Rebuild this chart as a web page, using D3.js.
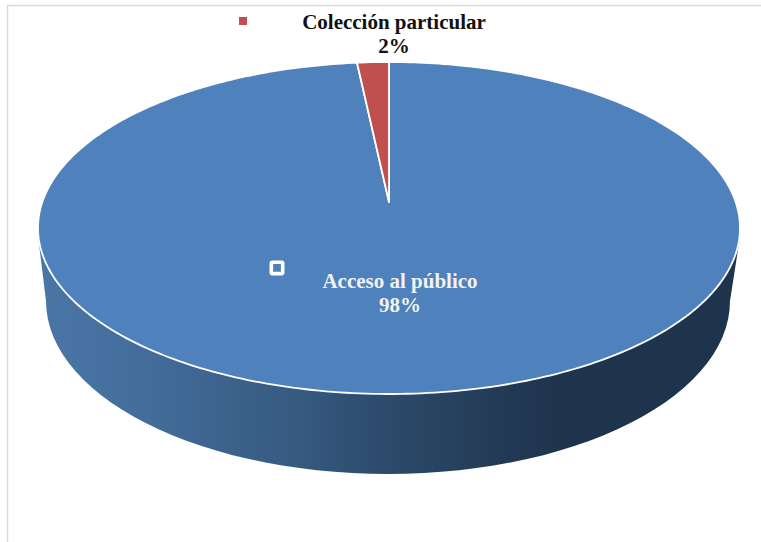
<!DOCTYPE html>
<html>
<head>
<meta charset="utf-8">
<style>
  body { margin: 0; background: white; }
  svg { display: block; }
  text { font-family: "Liberation Serif", serif; font-weight: bold; text-anchor: middle; font-size: 21px; }
</style>
<script src="https://cdnjs.cloudflare.com/ajax/libs/d3/7.8.5/d3.min.js"></script>
</head>
<body>
<div id="canvas"></div>
<script>
var categories = ["Acceso al público", "Colección particular"];
var series_values = [98.3, 1.7];
var slice_colors = ["#4f81bd", "#c0504d"];
var label_colors = ["#f2f2f2", "#111111"];

var canvas_w = 761, canvas_h = 542;

// top face, seen in perspective: the far edge is squeezed, the centre sits high
var face_cx = 389, face_top = 62, face_bottom = 394, face_apex = 202, face_halfw = 351;
var k = (2 * face_apex - face_top - face_bottom) / (face_bottom - face_top);
var a = (face_bottom - face_top) * (1 - k * k) / 2;
var sx = face_halfw * Math.sqrt(1 - k * k);

function project(angle) {
  var u = Math.sin(angle), v = -Math.cos(angle), w = 1 + k * v;
  return [face_cx + sx * u / w, face_apex + a * v / w];
}

var svg = d3.select("#canvas").append("svg").attr("width", canvas_w).attr("height", canvas_h);

// frame of the pasted chart, only top and left show
svg.append("path").attr("d", "M761,5.5H7.5V542").attr("fill", "none")
   .attr("stroke", "#d9d9d9").attr("stroke-width", 1.5);

var grad = svg.append("defs").append("linearGradient").attr("id", "wall")
   .attr("gradientUnits", "userSpaceOnUse")
   .attr("x1", 38).attr("x2", 740).attr("y1", 0).attr("y2", 0);
[[0, "#4a76a6"], [0.16, "#436c9a"], [0.37, "#365a80"], [0.5, "#2c4a6a"], [0.66, "#233a55"], [0.76, "#1e334c"], [1, "#1e334c"]]
  .forEach(function(s) { grad.append("stop").attr("offset", s[0]).attr("stop-color", s[1]); });

// side wall: lower half of a narrower ellipse hung under the top face
var wall_cx = 388, wall_cy = 301, wall_rx = 342, wall_ry = 173;
var line = d3.line();
var wall_pts = [[38.5, 240]];
d3.range(0, 181, 3).forEach(function(deg) {
  var t = Math.PI - deg * Math.PI / 180;
  wall_pts.push([wall_cx + wall_rx * Math.cos(t), wall_cy + wall_ry * Math.sin(t)]);
});
wall_pts.push([739.5, 240]);
svg.append("path").attr("d", line(wall_pts)).attr("fill", "url(#wall)");

// top face slices, angles from d3.pie
var pie = d3.pie().sort(null);
var slices = pie(series_values);

function slicePath(d) {
  var pts = [[face_cx, face_apex]];
  var n = Math.max(4, Math.ceil((d.endAngle - d.startAngle) * 60));
  for (var i = 0; i <= n; i++) {
    pts.push(project(d.startAngle + (d.endAngle - d.startAngle) * i / n));
  }
  return line(pts) + "Z";
}

svg.selectAll("path.slice").data(slices).enter().append("path")
   .attr("class", "slice")
   .attr("d", slicePath)
   .attr("fill", function(d, i) { return slice_colors[i]; })
   .attr("stroke", "white").attr("stroke-width", 1.8).attr("stroke-linejoin", "round");

// legend keys next to the labels
svg.append("rect").attr("x", 271.3).attr("y", 262.2).attr("width", 11.4).attr("height", 11.4).attr("rx", 1)
   .attr("fill", slice_colors[0]).attr("stroke", "white").attr("stroke-width", 3.6);
svg.append("rect").attr("x", 239).attr("y", 17).attr("width", 8).attr("height", 8).attr("fill", slice_colors[1]);

var pct = d3.format(".0f");
var label_x = [400, 394], label_y = [288, 29], line_gap = 24;
categories.forEach(function(name, i) {
  svg.append("text").attr("x", label_x[i]).attr("y", label_y[i]).attr("fill", label_colors[i]).text(name);
  svg.append("text").attr("x", label_x[i]).attr("y", label_y[i] + line_gap).attr("fill", label_colors[i])
     .text(pct(series_values[i]) + "%");
});
</script>
</body>
</html>
